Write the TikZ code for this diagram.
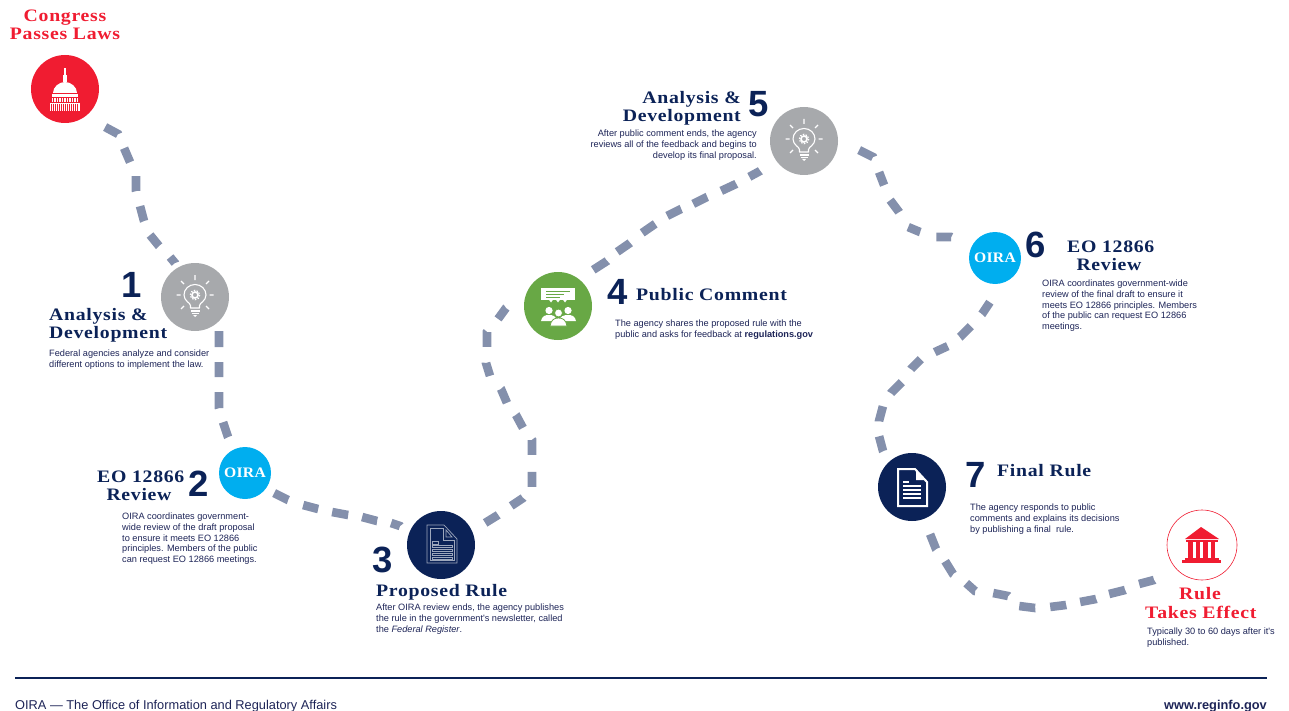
\documentclass[tikz,border=0pt]{standalone}
\usepackage{fontspec}
\usetikzlibrary{backgrounds}
\newfontfamily\bodyf{Liberation Sans}
\newfontfamily\headf[FakeStretch=1.13,LetterSpace=4]{Liberation Serif}
\newfontfamily\oiraf[FakeStretch=1.08,LetterSpace=2]{Liberation Serif}
\definecolor{navy}{HTML}{0B2257}
\definecolor{redc}{HTML}{F01C31}
\definecolor{skyc}{HTML}{00AEEF}
\definecolor{grayc}{HTML}{A7A9AC}
\definecolor{greenc}{HTML}{68A845}
\definecolor{dashc}{HTML}{8490AC}
\definecolor{txtc}{HTML}{1D2457}
\tikzset{
  x=1pt,y=-1pt,
  conn/.style={draw=dashc,line width=8.6pt},
  bigdot/.style={circle,inner sep=0pt,minimum size=68pt,draw=none},
  oiradot/.style={circle,inner sep=0pt,minimum size=52pt,fill=skyc,text=white,font=\oiraf\bfseries\fontsize{14.5}{14.5}\selectfont},
  head/.style={inner sep=0pt,anchor=base west,text=navy,font=\headf\bfseries\fontsize{17.5}{18}\selectfont},
  redhead/.style={head,text=redc},
  numb/.style={inner sep=0pt,anchor=base,text=navy,font=\bodyf\bfseries\fontsize{36.5}{38}\selectfont},
  body/.style={inner sep=0pt,anchor=north west,align=left,text=txtc,font=\bodyf\fontsize{9.2}{10.7}\selectfont},
  bodyr/.style={body,anchor=north east,align=right},
  foot/.style={inner sep=0pt,anchor=base west,text=txtc,font=\bodyf\fontsize{12.8}{13}\selectfont},
  bulbicon/.pic={
    \draw[white,line width=1.1pt,line join=round] (-4.5,11) -- (-4.5,8.5) .. controls (-4.5,6) and (-11,4) .. (-11,-2) .. controls (-11,-8) and (-6,-12.5) .. (0,-12.5) .. controls (6,-12.5) and (11,-8) .. (11,-2) .. controls (11,4) and (4.5,6) .. (4.5,8.5) -- (4.5,11) -- cycle;
    \draw[white,line width=1.6pt] (0,-2) circle (3);
    \draw[white,line width=1.2pt,dash pattern=on 1.5pt off 1.4pt] (0,-2) circle (4.7);
    \draw[white,line width=1.1pt] (0,-22)--(0,-17) (-18.5,-2)--(-14.5,-2) (14.5,-2)--(18.5,-2)
      (-14,-16)--(-11,-13) (14,-16)--(11,-13) (-14,12)--(-11,9) (14,12)--(11,9);
    \draw[white,line width=1.2pt] (-4.5,14)--(4.5,14) (-3.5,16.5)--(3.5,16.5);
    \fill[white] (-2,18) -- (2,18) -- (0,20) -- cycle;
  },
  capitolicon/.pic={
    \fill[white] (-0.9,-21) rectangle (0.9,-12);
    \fill[white] (-2.4,-14) rectangle (2.4,-7);
    \fill[white] (-12,4) .. controls (-12,-2) and (-6,-7) .. (0,-7) .. controls (6,-7) and (12,-2) .. (12,4) -- cycle;
    \fill[white] (-13,5) rectangle (13,13);
    \fill[white] (-15,14) rectangle (15,22);
    \draw[redc,line width=0.5pt] (-13,4.5)--(13,4.5) (-13,8)--(13,8);
    \foreach \k in {-11.5,-9,...,11.6} {\draw[redc,line width=0.5pt] (\k,9)--(\k,13);}
    \foreach \k in {-13.5,-11.5,...,13.6} {\draw[redc,line width=0.6pt] (\k,15)--(\k,22);}
  },
  thindoc/.pic={
    \draw[white!60!navy,line width=0.7pt] (-14,-20) -- (3,-20) -- (16,-6) -- (16,18) -- (-14,18) -- cycle;
    \draw[white!60!navy,line width=0.7pt] (-11,-17) -- (2,-17) -- (2,-5) -- (13,-5) -- (13,15) -- (-11,15) -- cycle;
    \draw[white!60!navy,line width=0.7pt] (5,-15) -- (11,-8) -- (5,-8) -- cycle;
    \draw[white!60!navy,line width=0.6pt] (-9,-4) rectangle (-3,-1);
    \foreach \k in {0,4,8,12} {\draw[white!60!navy,line width=0.6pt] (-9,\k) rectangle (11,\k+2.4);}
  },
  soliddoc/.pic={
    \draw[white,line width=2pt,line join=miter] (-14,-18) -- (3,-18) -- (15,-5) -- (15,19) -- (-14,19) -- cycle;
    \fill[white] (4,-16) -- (13,-7) -- (4,-7) -- cycle;
    \draw[white,line width=1.3pt] (-9,-5)--(-3,-5) (-9,-1)--(9,-1) (-9,3)--(9,3) (-9,7)--(9,7) (-9,11)--(9,11);
  },
  peopleicon/.pic={
    \fill[white] (-17,-18) rectangle (17,-6);
    \foreach \k in {-7,0,7} {\fill[white] (\k-1.8,-6) -- (\k+1.8,-6) -- (\k,-3.5) -- cycle;}
    \draw[greenc,line width=0.9pt] (-12,-15)--(12,-15) (-12,-12)--(6,-12) (-12,-9)--(2,-9);
    \fill[white] (-9,4.5) circle (3.6) (10,4.5) circle (3.6);
    \fill[white] (-17,15) .. controls (-16,10) and (-13,9) .. (-9,9) .. controls (-5,9) and (-2,10) .. (-1,15) -- cycle;
    \fill[white] (1,15) .. controls (2,10) and (6,9) .. (10,9) .. controls (14,9) and (17,10) .. (18,15) -- cycle;
    \fill[white,draw=greenc,line width=0.8pt] (0.5,7) circle (4);
    \fill[white,draw=greenc,line width=0.8pt] (-8,20) .. controls (-7,14) and (-4,12) .. (0.5,12) .. controls (5,12) and (8,14) .. (9,20) -- cycle;
  },
  courticon/.pic={
    \fill[redc] (-17,-6) -- (-1,-18) -- (17,-6) -- cycle;
    \fill[redc] (-16,-5.5) rectangle (16,-3.5);
    \foreach \k in {-14,-6.5,1,8.5} {\fill[redc] (\k,-3.5) rectangle (\k+4.5,13);}
    \fill[redc] (-17,13) rectangle (17,15);
    \fill[redc] (-20,15) rectangle (19,18);
  }
}
\begin{document}
\begin{tikzpicture}
\useasboundingbox (0,0) rectangle (1289,711);
% circles
\node[bigdot,fill=redc] (cap) at (65,89) {};
\node[bigdot,fill=grayc] (an1) at (195,297) {};
\node[oiradot] (oi2) at (245,473) {OIRA};
\node[bigdot,fill=navy] (pr3) at (441,545) {};
\node[bigdot,fill=greenc] (pc4) at (558,306) {};
\node[bigdot,fill=grayc] (an5) at (804,141) {};
\node[oiradot] (oi6) at (995,258) {OIRA};
\node[bigdot,fill=navy] (fr7) at (912,487) {};
\node[circle,inner sep=0pt,minimum size=70pt,draw=redc,line width=0.6pt,fill=white] (eff) at (1202,545) {};
% icons
\pic at (cap) {capitolicon};
\pic at (an1) {bulbicon};
\pic at (an5) {bulbicon};
\pic at (pr3) {thindoc};
\pic at (fr7) {soliddoc};
\pic at (pc4) {peopleicon};
\pic at (eff) {courticon};
% connectors
\begin{scope}[on background layer]
\draw[conn,dash pattern=on 0pt off 23.2pt on 14.8pt off 15.2pt on 15.2pt off 15.2pt on 15pt off 15.5pt on 15.5pt off 15.2pt on 14.2pt off 15.6pt on 7.8pt off 40pt]
  (cap.-56) -- (105,127) -- (118,134) -- (124,148) -- (130,162) -- (136,176) -- (136,191) -- (140,206) -- (144,221) -- (150,235) -- (159,246) -- (170,257) -- (175,263) -- (an1.122);
\draw[conn,dash pattern=on 0pt off 10pt on 16pt off 15pt on 15pt off 15pt on 16pt off 14.6pt on 15.8pt off 40pt]
  (an1.-45) -- (219,331) -- (219,408) -- (223,422) -- (228,437) -- (oi2.115);
\draw[conn,dash pattern=on 0pt off 9.4pt on 15.7pt off 15.8pt on 15.5pt off 14.3pt on 16.3pt off 14.1pt on 15.5pt off 14.1pt on 9.5pt off 40pt]
  (oi2.-31) -- (274,493) -- (288,500) -- (303,505) -- (318,509) -- (332,512) -- (348,515) -- (362,517) -- (377,521) -- (391,523) -- (400,526) -- (pr3.165);
\draw[conn,dash pattern=on 0pt off 15.3pt on 15.3pt off 15.8pt on 14.4pt off 14.2pt on 15pt off 17pt on 15pt off 15pt on 14.8pt off 15pt on 15.2pt off 17pt on 13.6pt off 16pt on 15pt off 17pt on 13.6pt off 40pt]
  (pr3.24) -- (485,523) -- (498,515) -- (511,506) -- (523,498) -- (532,487) -- (532,440) -- (523,428) -- (516,415) -- (507,403) -- (501,389) -- (490,376) -- (486,363) -- (487,347) -- (487,332) -- (498,319) -- (506,308) -- (pc4.157);
\draw[conn,dash pattern=on 0pt off 16.3pt on 16.6pt off 13.5pt on 15.8pt off 15.6pt on 15.8pt off 14.4pt on 15.7pt off 13pt on 15.7pt off 15.2pt on 16.6pt off 14.8pt on 12.5pt off 40pt]
  (pc4.45) -- (593,270) -- (607,261) -- (617,252) -- (630,243) -- (642,233) -- (655,224) -- (667,216) -- (681,209) -- (693,204) -- (707,197) -- (721,191) -- (736,184) -- (749,177) -- (760,171) -- (an5.213);
\draw[conn,dash pattern=on 0pt off 23.3pt on 15.7pt off 16.2pt on 13.9pt off 16.2pt on 15pt off 17.5pt on 13pt off 16.8pt on 15pt off 40pt]
  (an5.2) -- (859,150) -- (873,157) -- (879,172) -- (884,185) -- (890,200) -- (899,212) -- (908,227) -- (920,232) -- (936,237) -- (951,237) -- (oi6.155);
\draw[conn,dash pattern=on 0pt off 18.5pt on 14.4pt off 16.3pt on 15.6pt off 15pt on 14.3pt off 15.7pt on 14.1pt off 15.8pt on 15.6pt off 15.3pt on 15.5pt off 15pt on 15.5pt off 40pt]
  (oi6.-92) -- (990,302) -- (982,314) -- (971,326) -- (960,337) -- (948,346) -- (935,352) -- (921,359) -- (911,369) -- (902,382) -- (891,393) -- (883,406) -- (879,421) -- (879,436) -- (883,451) -- (fr7.133);
\draw[conn,dash pattern=on 0pt off 16.6pt on 16.2pt off 15pt on 15.3pt off 15.8pt on 12pt off 18.1pt on 15.3pt off 14.9pt on 16.1pt off 15pt on 16.1pt off 14.3pt on 16.3pt off 13.9pt on 16.5pt off 15.2pt on 15.5pt off 40pt]
  (fr7.-73) -- (930,534) -- (936,549) -- (945,561) -- (953,574) -- (966,583) -- (975,591) -- (993,593) -- (1008,596) -- (1019,606) -- (1035,608) -- (1050,607) -- (1066,605) -- (1080,602) -- (1096,599) -- (1109,594) -- (1125,590) -- (1139,584) -- (1154,580) -- (eff.219);
\draw[navy,line width=2pt] (15,678) -- (1267,678);
\end{scope}
% headings
\node[redhead,anchor=base] (h0a) at (65,22) {Congress};
\node[redhead,anchor=base] (h0b) at (65,40) {Passes Laws};
\node[numb] (n1) at (132,297) {1};
\node[head] (h1a) at (49,320) {Analysis \&};
\node[head] (h1b) at (49,338) {Development};
\node[body] (t1) at (49,350) {Federal agencies analyze and consider\\different options to implement the law.};
\node[numb] (n2) at (199,496) {2};
\node[head] (h2a) at (97,482) {EO 12866};
\node[head,anchor=base] (h2b) at (139,500) {Review};
\node[body] (t2) at (122,513) {OIRA coordinates government-\\wide review of the draft proposal\\to ensure it meets EO 12866\\principles. Members of the public\\can request EO 12866 meetings.};
\node[numb] (n3) at (383,572) {3};
\node[head] (h3) at (376,596) {Proposed Rule};
\node[body] (t3) at (376,604) {After OIRA review ends, the agency publishes\\the rule in the government's newsletter, called\\the \textit{Federal Register}.};
\node[numb] (n4) at (618,304) {4};
\node[head] (h4) at (636,300) {Public Comment};
\node[body] (t4) at (615,320) {The agency shares the proposed rule with the\\public and asks for feedback at \textbf{regulations.gov}};
\node[numb] (n5) at (759,117) {5};
\node[head,anchor=base east] (h5a) at (741,104) {Analysis \&};
\node[head,anchor=base east] (h5b) at (741,122) {Development};
\node[bodyr] (t5) at (757,130) {After public comment ends, the agency\\reviews all of the feedback and begins to\\develop its final proposal.};
\node[numb] (n6) at (1036,258) {6};
\node[head] (h6a) at (1067,252) {EO 12866};
\node[head,anchor=base] (h6b) at (1109,270) {Review};
\node[body] (t6) at (1042,280) {OIRA coordinates government-wide\\review of the final draft to ensure it\\meets EO 12866 principles. Members\\of the public can request EO 12866\\meetings.};
\node[numb] (n7) at (976,487) {7};
\node[head] (h7) at (997,476) {Final Rule};
\node[body] (t7) at (970,504) {The agency responds to public\\comments and explains its decisions\\by publishing a final\ \ rule.};
\node[redhead,anchor=base] (h8a) at (1200,599) {Rule};
\node[redhead] (h8b) at (1145,618) {Takes Effect};
\node[body] (t8) at (1147,628) {Typically 30 to 60 days after it's\\published.};
\node[foot] (f1) at (15,709) {OIRA — The Office of Information and Regulatory Affairs};
\node[foot,anchor=base east,font=\bodyf\bfseries\fontsize{12.8}{13}\selectfont] (f2) at (1267,709) {www.reginfo.gov};
\end{tikzpicture}
\end{document}
